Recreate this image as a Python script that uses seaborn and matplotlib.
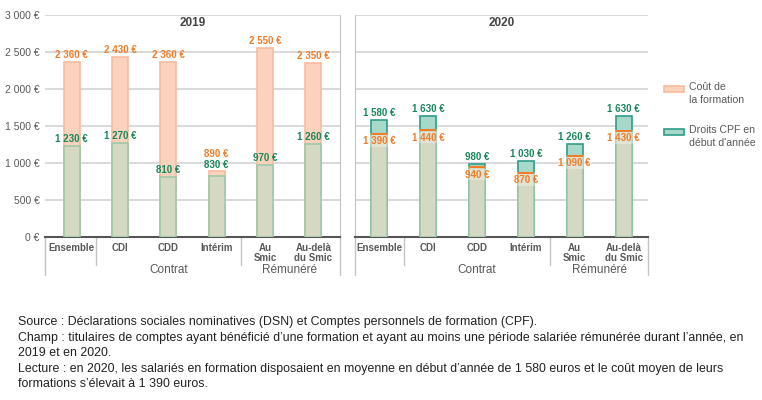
import numpy as np
import matplotlib
matplotlib.use("Agg")
import matplotlib.pyplot as plt
import matplotlib.transforms as mtransforms
from matplotlib.patches import Rectangle
import seaborn as sns

# donnees
categories = ["Ensemble", "CDI", "CDD", "Intérim", "Au\nSmic", "Au-delà\ndu Smic"]
groupes = ["Contrat", "Rémunéré"]
annees = ["2019", "2020"]
cout_2019 = [2360, 2430, 2360, 890, 2550, 2350]
droits_2019 = [1230, 1270, 810, 830, 970, 1260]
cout_2020 = [1390, 1440, 940, 870, 1090, 1430]
droits_2020 = [1580, 1630, 980, 1030, 1260, 1630]
y_ticks = [0, 500, 1000, 1500, 2000, 2500, 3000]

notes = [
    "Source : Déclarations sociales nominatives (DSN) et Comptes personnels de formation (CPF).",
    "Champ : titulaires de comptes ayant bénéficié d’une formation et ayant au moins une période salariée rémunérée durant l’année, en",
    "2019 et en 2020.",
    "Lecture : en 2020, les salariés en formation disposaient en moyenne en début d’année de 1 580 euros et le coût moyen de leurs",
    "formations s’élevait à 1 390 euros.",
]

# couleurs
ROSE, ROSE_BORD = "#fbd3bd", "#f7bc9c"
GRIS, GRIS_BORD = "#d5d8c3", "#9fc8a9"
TURQ, TURQ_BORD = "#a7d9ca", "#2e9c89"
ORANGE = "#f07d28"
VERT = "#17875a"
TEXTE = "#595959"
GRILLE = "#d9d9d9"

sns.set_style("white")
plt.rcParams["font.family"] = ["Liberation Sans", "DejaVu Sans"]

W, H = 762, 400


def euro(v):
    return f"{v:,}".replace(",", " ") + " €"


def px_axes(fig, x0, x1, y_top, y_bot):
    return fig.add_axes([x0 / W, 1 - y_bot / H, (x1 - x0) / W, (y_bot - y_top) / H])


fig = plt.figure(figsize=(W / 100, H / 100), dpi=100)
ax1 = px_axes(fig, 45, 340, 15, 237)
ax2 = px_axes(fig, 355, 648, 15, 237)

largeur = 0.33
panneaux = [
    (ax1, annees[0], cout_2019, droits_2019, (-0.55, 5.55)),
    (ax2, annees[1], cout_2020, droits_2020, (-0.5, 5.5)),
]

for ax, annee, cout, droits, xlim in panneaux:
    cout = np.array(cout)
    droits = np.array(droits)
    haut = np.maximum(cout, droits)
    bas = np.minimum(cout, droits)
    couleurs = [ROSE if c > d else TURQ for c, d in zip(cout, droits)]
    bords = [ROSE_BORD if c > d else TURQ_BORD for c, d in zip(cout, droits)]

    # barre du haut (cout ou droits) puis partie commune grise
    sns.barplot(x=categories, y=haut, hue=categories, palette=couleurs, legend=False,
                width=largeur, saturation=1, errorbar=None, linewidth=1.2, ax=ax, zorder=2)
    for p, b in zip(ax.patches, bords):
        p.set_edgecolor(b)
    sns.barplot(x=categories, y=bas, color=GRIS, width=largeur, saturation=1, errorbar=None,
                linewidth=1.2, edgecolor=GRIS_BORD, ax=ax, zorder=3)

    for i, (c, d) in enumerate(zip(cout, droits)):
        kw = dict(textcoords="offset points", ha="center", fontsize=7, fontweight="bold", zorder=5)
        if c > d:
            if c - d < 150:
                ax.annotate(euro(d), (i, c), xytext=(0, 1), va="bottom", color=VERT, **kw)
                ax.annotate(euro(c), (i, c), xytext=(0, 8.5), va="bottom", color=ORANGE, **kw)
            else:
                ax.annotate(euro(c), (i, c), xytext=(0, 1.5), va="bottom", color=ORANGE, **kw)
                ax.annotate(euro(d), (i, d), xytext=(0, 1.5), va="bottom", color=VERT, **kw)
        else:
            ax.hlines(c, i - largeur / 2, i + largeur / 2, color=ORANGE, lw=1.5, zorder=4)
            ax.annotate(euro(d), (i, d), xytext=(0, 1.5), va="bottom", color=VERT, **kw)
            ax.annotate(euro(c), (i, c), xytext=(0, -1.5), va="top", color=ORANGE,
                        bbox=dict(boxstyle="square,pad=0.1", fc="white", ec="none", alpha=0.3), **kw)

    ax.set_xlim(*xlim)
    ax.set_ylim(0, 3000)
    ax.set_yticks(y_ticks)
    ax.yaxis.grid(True, color=GRILLE, lw=1.4)
    ax.set_axisbelow(True)
    ax.set_xlabel("")
    ax.set_ylabel("")
    ax.set_xticks(range(len(categories)))
    ax.set_xticklabels(categories, fontsize=7, fontweight="bold", color=TEXTE, linespacing=1.1)
    ax.tick_params(axis="x", length=0, pad=4)
    ax.tick_params(axis="y", length=0, pad=4, labelsize=7.5, labelcolor=TEXTE)
    ax.set_title(annee, fontsize=8.5, fontweight="bold", color="#444444", y=0.915)

    for s in ["top", "left", "right"]:
        ax.spines[s].set_visible(False)
    ax.spines["bottom"].set_color("#555555")
    ax.spines["bottom"].set_linewidth(1.5)

    # separateurs sous l'axe
    trans = mtransforms.blended_transform_factory(ax.transData, ax.transAxes)
    for x in [0.5, 3.5]:
        ax.plot([x, x], [0, -0.126], transform=trans, clip_on=False, color="#c4c4c4", lw=1)
    for x in [0, 1]:
        ax.plot([x, x], [0, -0.171], transform=ax.transAxes, clip_on=False, color="#c4c4c4", lw=1)
    ax.text(2, -0.15, groupes[0], transform=trans, ha="center", va="center", fontsize=8.5, color=TEXTE)
    ax.text(4.5, -0.15, groupes[1], transform=trans, ha="center", va="center", fontsize=8.5, color=TEXTE)

ax1.set_yticklabels([euro(v) for v in y_ticks])
ax1.spines["right"].set_visible(True)
ax1.spines["right"].set_color("#c4c4c4")
ax2.spines["left"].set_visible(True)
ax2.spines["left"].set_color("#c4c4c4")
ax2.set_yticklabels([])

# legende
for y, coul, bord, txt in [(86, ROSE, ROSE_BORD, "Coût de\nla formation"),
                           (129, TURQ, TURQ_BORD, "Droits CPF en\ndébut d'année")]:
    fig.add_artist(Rectangle((664 / W, 1 - (y + 6) / H), 20 / W, 6 / H, transform=fig.transFigure,
                             fc=coul, ec=bord, lw=1.2))
    fig.text(689 / W, 1 - (y - 4) / H, txt, ha="left", va="top", fontsize=7.6, color=TEXTE, linespacing=1.35)

# notes
for y, txt in zip([322, 338, 353, 369, 384], notes):
    fig.text(18 / W, 1 - y / H, txt, ha="left", va="center", fontsize=8.9, color="#222222")

fig.savefig("out.png", dpi=100)
